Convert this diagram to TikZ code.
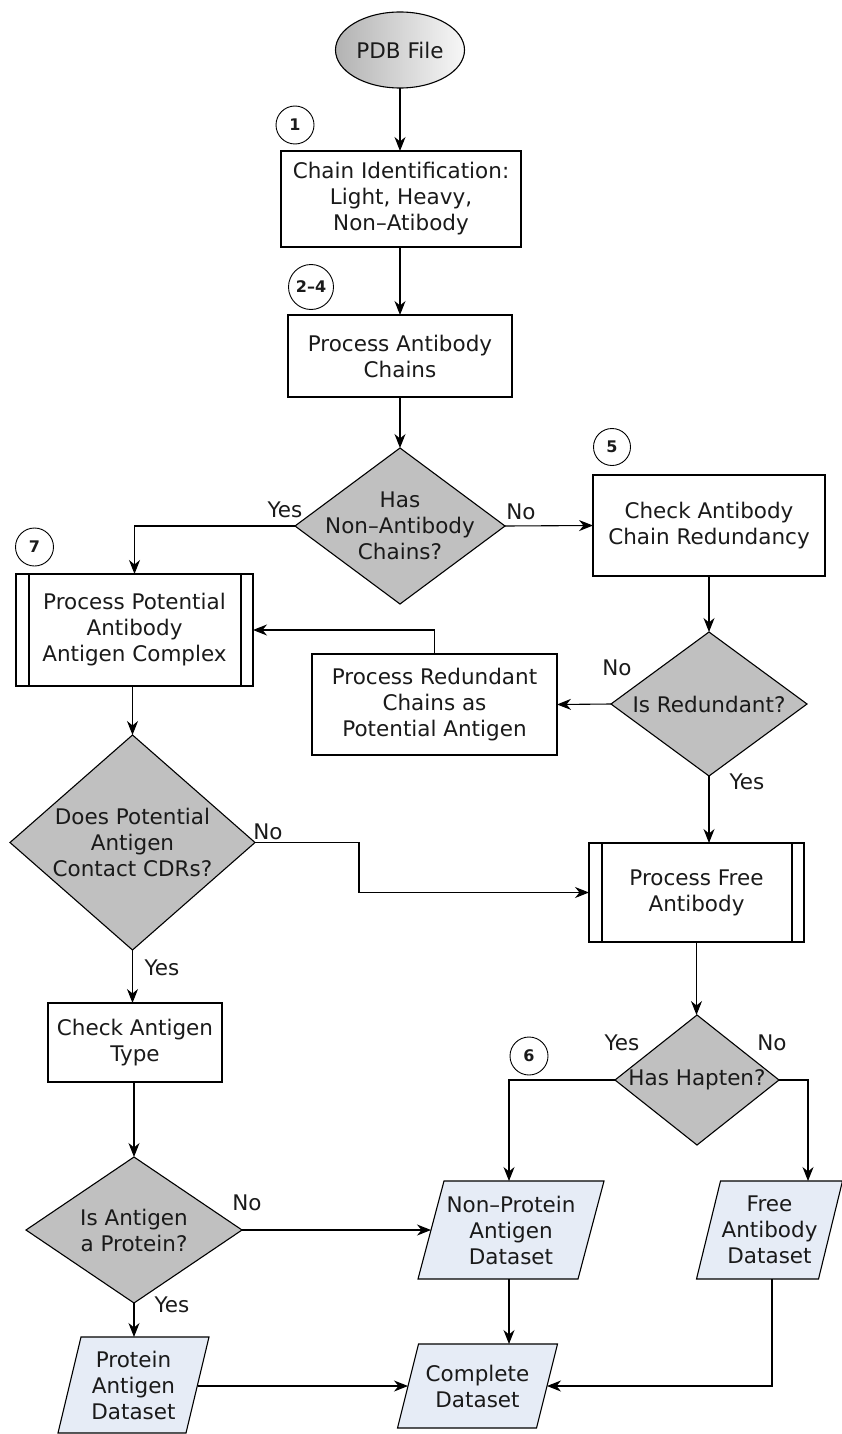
\documentclass[tikz,border=0pt]{standalone}
\usepackage{fontspec}
\setmainfont{DejaVu Sans}
\usetikzlibrary{arrows.meta,shapes.geometric,backgrounds,calc}
\definecolor{dfill}{HTML}{C0C0C0}
\definecolor{pfill}{HTML}{E6ECF6}
\definecolor{txt}{HTML}{1A1A1A}
\begin{document}
\begin{tikzpicture}[x=1pt,y=-1pt,
  font=\fontsize{21.5}{26}\selectfont,
  every node/.style={inner sep=0pt, outer sep=0pt, text=txt},
  procbox/.style={rectangle, draw, line width=1.1pt, fill=white, align=center},
  decision/.style={diamond, draw, line width=1.1pt, fill=dfill},
  dtext/.style={align=center},
  datanode/.style={rectangle, align=center},
  num/.style={circle, draw, line width=0.9pt, fill=white, font=\bfseries\fontsize{16}{18}\selectfont},
  lbl/.style={},
  conn/.style={line width=1.1pt, -{Stealth[length=14pt,width=11pt,inset=4.5pt]}},
  plain/.style={line width=1.1pt},
  parafill/.style={draw, line width=1.1pt, fill=pfill}
]
\useasboundingbox (0,0) rectangle (842,1434);

% start
\node[ellipse, draw, line width=1.1pt, minimum width=129, minimum height=76,
      left color=black!30, right color=black!3] (pdb) at (400,50) {PDB File};

% number circles
\node[num, minimum size=38] (c1) at (295,125) {1};
\node[num, minimum size=45] (c24) at (311,287) {2–4};
\node[num, minimum size=37] (c5) at (612,447) {5};
\node[num, minimum size=38] (c7) at (34.5,547) {7};
\node[num, minimum size=38] (c6) at (529,1056) {6};

% process boxes
\node[procbox, minimum width=240, minimum height=96] (b1) at (401,199) {Chain Identification:\\Light, Heavy,\\Non–Atibody};
\node[procbox, minimum width=224, minimum height=82] (b2) at (400,356) {Process Antibody\\Chains};
\node[procbox, minimum width=232, minimum height=101] (b3) at (709,525.5) {Check Antibody\\Chain Redundancy};
\node[procbox, minimum width=237, minimum height=112] (pp1) at (134.5,630) {Process Potential\\Antibody\\Antigen Complex};
\node[procbox, minimum width=245, minimum height=101] (b4) at (434.5,704.5) {Process Redundant\\Chains as\\Potential Antigen};
\node[procbox, minimum width=215, minimum height=99] (pp2) at (696.5,892.5) {Process Free\\Antibody};
\node[procbox, minimum width=174, minimum height=79] (b5) at (135,1042.5) {Check Antigen\\Type};

% predefined-process side bars
\draw[plain] ([xshift=13]pp1.north west) -- ([xshift=13]pp1.south west);
\draw[plain] ([xshift=-12]pp1.north east) -- ([xshift=-12]pp1.south east);
\draw[plain] ([xshift=13]pp2.north west) -- ([xshift=13]pp2.south west);
\draw[plain] ([xshift=-12]pp2.north east) -- ([xshift=-12]pp2.south east);

% decisions
\node[decision, minimum width=210, minimum height=156] (d1) at (400,526) {};
\node[dtext] (d1t) at (d1) {Has\\Non–Antibody\\Chains?};
\node[decision, minimum width=196, minimum height=144] (d2) at (709,704) {};
\node[dtext] (d2t) at (d2) {Is Redundant?};
\node[decision, minimum width=245, minimum height=215] (d3) at (132.5,842.5) {};
\node[dtext] (d3t) at (d3) {Does Potential\\Antigen\\Contact CDRs?};
\node[decision, minimum width=164, minimum height=130] (d4) at (697,1080) {};
\node[dtext] (d4t) at (d4) {Has Hapten?};
\node[decision, minimum width=216, minimum height=146] (d5) at (134,1230) {};
\node[dtext] (d5t) at (d5) {Is Antigen\\a Protein?};

% data (parallelogram) nodes
\node[datanode, minimum width=160, minimum height=98] (np) at (511,1230) {Non–Protein\\Antigen\\Dataset};
\node[datanode, minimum width=122, minimum height=98] (fa) at (769.5,1230) {Free\\Antibody\\Dataset};
\node[datanode, minimum width=139, minimum height=84] (cd) at (477.5,1386) {Complete\\Dataset};
\node[datanode, minimum width=128, minimum height=96] (pa) at (133.5,1385) {Protein\\Antigen\\Dataset};
\begin{pgfonlayer}{background}
\foreach \n/\s in {np/13,fa/12,cd/10.5,pa/11.5}{
  \draw[parafill] ([xshift=-\s pt]\n.south west) -- ([xshift=\s pt]\n.north west)
    -- ([xshift=\s pt]\n.north east) -- ([xshift=-\s pt]\n.south east) -- cycle;
}
\end{pgfonlayer}

% branch labels
\node[lbl] (l1) at (285,510) {Yes};
\node[lbl] (l2) at (521,512) {No};
\node[lbl] (l3) at (617,668) {No};
\node[lbl] (l4) at (747,782) {Yes};
\node[lbl] (l5) at (268,832) {No};
\node[lbl] (l6) at (162,968) {Yes};
\node[lbl] (l7) at (622,1043) {Yes};
\node[lbl] (l8) at (772,1043) {No};
\node[lbl] (l9) at (247,1203) {No};
\node[lbl] (l10) at (172,1305) {Yes};

% connectors
\draw[conn] (pdb.south) -- (pdb.south |- b1.north);
\draw[conn] (b1.south -| b2.north) -- (b2.north);
\draw[conn] (b2.south) -- (d1.north);
\draw[conn] (d1.west) -| (pp1.north);
\draw[conn] (d1.east) -- (b3.west);
\draw[conn] (b3.south) -- (d2.north);
\draw[conn] (d2.west) -- (b4.east);
\draw[conn] (b4.north) |- (pp1.east);
\draw[conn] (d2.south) -- (d2.south |- pp2.north);
\draw[conn] (d3.north |- pp1.south) -- (d3.north);
\coordinate (k) at (359,870);
\draw[conn] (d3.east) -| (k) |- (pp2.west);
\draw[conn] (d3.south) -- (d3.south |- b5.north);
\draw[conn] (b5.south -| d5.north) -- (d5.north);
\draw[conn] (pp2.south) -- (pp2.south |- d4.north);
\draw[conn] (d4.west) -| ([xshift=-2]np.north);
\draw[conn] (d4.east) -| ([xshift=38.5]fa.north);
\draw[conn] (d5.east) -- (np.west);
\draw[conn] (d5.south) -- (d5.south |- pa.north);
\draw[conn] ([xshift=-2]np.south) -- ([xshift=-2]np.south |- cd.north);
\draw[conn] (pa.east |- cd.west) -- (cd.west);
\draw[conn] ([xshift=2.5]fa.south) |- (cd.east);
\end{tikzpicture}
\end{document}
